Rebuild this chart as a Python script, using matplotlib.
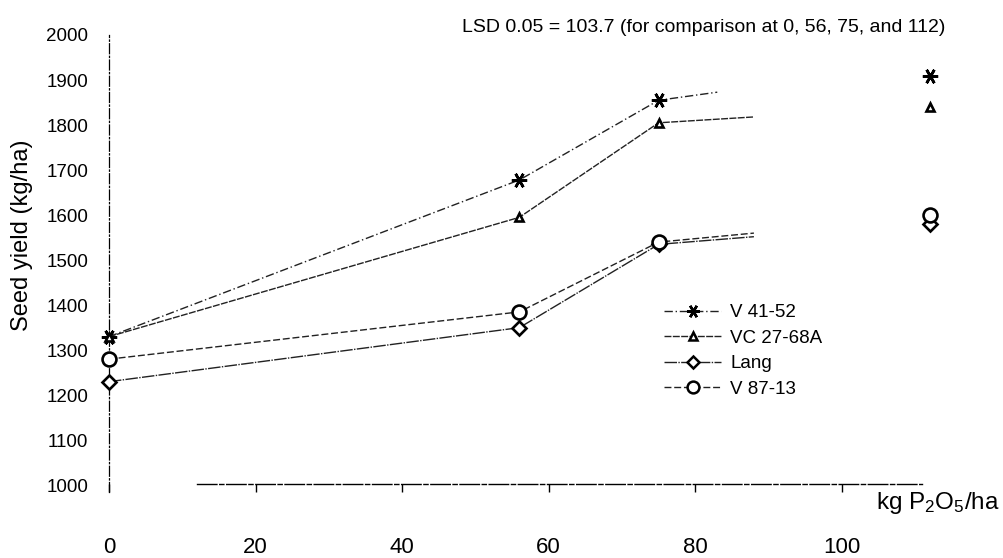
import numpy as np
import matplotlib
matplotlib.use("Agg")
import matplotlib.pyplot as plt

plt.rcParams['font.family'] = ['Liberation Sans', 'DejaVu Sans']
plt.rcParams['mathtext.fontset'] = 'custom'
plt.rcParams['mathtext.rm'] = 'Liberation Sans'
plt.rcParams['mathtext.it'] = 'Liberation Sans'

# P rates (kg P2O5/ha)
rates = [0, 56, 75, 112]

# seed yield (kg/ha) per cultivar
v4152 = [1330, 1678, 1855, 1910]
vc2768a = [1330, 1595, 1805, 1840]
lang = [1230, 1350, 1535, 1580]
v8713 = [1280, 1385, 1540, 1600]

# fitted response beyond 75 kg/ha, drawn only as a short tail
tail_x = [83, 88, 88, 88]
tail_y = [1873, 1818, 1552, 1560]

names = ['V 41-52', 'VC 27-68A', 'Lang', 'V 87-13']
series = [v4152, vc2768a, lang, v8713]
markers = [(6, 2, 30), '^', 'D', 'o']
msizes = [11, 6, 7, 10]
dashes = [(0, (6, 2, 1, 2)), (0, (5, 1)), (0, (9, 1, 1, 1)), (0, (5, 2))]

fig = plt.figure(figsize=(10.04, 5.58), dpi=100)
ax = fig.add_axes([0.0939, 0.1183, 0.8906, 0.8674])

handles = []
for i in range(4):
    ys = series[i]
    lx = rates[:3] + [tail_x[i]]
    ly = ys[:3] + [tail_y[i]]
    ax.plot(lx, ly, linestyle=dashes[i], color='#222222', lw=1.0, zorder=2)
    ax.plot(rates, ys, linestyle='none', marker=markers[i],
            ms=msizes[i], mew=1.9, mec='black', mfc='white', zorder=3)
    handles.append(ax.plot([], [], linestyle=dashes[i], color='#222222', lw=1.0,
                           marker=markers[i], ms=msizes[i] * 0.85, mew=1.8,
                           mec='black', mfc='white')[0])

ax.set_xlim(-2, 120)
ax.set_ylim(985, 2060)

for s in ['top', 'right']:
    ax.spines[s].set_visible(False)
ax.spines['left'].set_position(('data', 0))
ax.spines['left'].set_bounds(985, 2000)
ax.spines['left'].set_linestyle((0, (8, 2, 1, 2)))
ax.spines['left'].set_linewidth(0.9)
ax.spines['bottom'].set_position(('data', 1003))
ax.spines['bottom'].set_bounds(12, 111)
ax.spines['bottom'].set_linestyle((0, (14, 2, 3, 2)))
ax.spines['bottom'].set_linewidth(1.0)

ax.set_yticks(np.arange(1000, 2001, 100))
ax.set_xticks([0, 20, 40, 60, 80, 100])
ax.tick_params(axis='y', length=0, pad=15, labelsize=13.5)
ax.tick_params(axis='x', direction='out', length=6, width=1.0, pad=32, labelsize=16)

fig.text(22 / 1004, 1 - 235 / 558, 'Seed yield (kg/ha)', rotation=90,
         ha='center', va='center', fontsize=17)
fig.text(1000 / 1004, 1 - 503 / 558, 'kg P$_2$O$_5$/ha', ha='right',
         va='center', fontsize=17.5)
fig.text(462 / 1004, 1 - 28 / 558,
         'LSD 0.05 = 103.7 (for comparison at 0, 56, 75, and 112)',
         ha='left', va='center', fontsize=14)

ax.legend(handles, names, loc='upper left', bbox_to_anchor=(0.645, 0.485),
          bbox_transform=fig.transFigure, frameon=False, fontsize=13.5,
          handlelength=3.0, handletextpad=0.5, labelspacing=0.45)

fig.savefig('out.png', dpi=100)
